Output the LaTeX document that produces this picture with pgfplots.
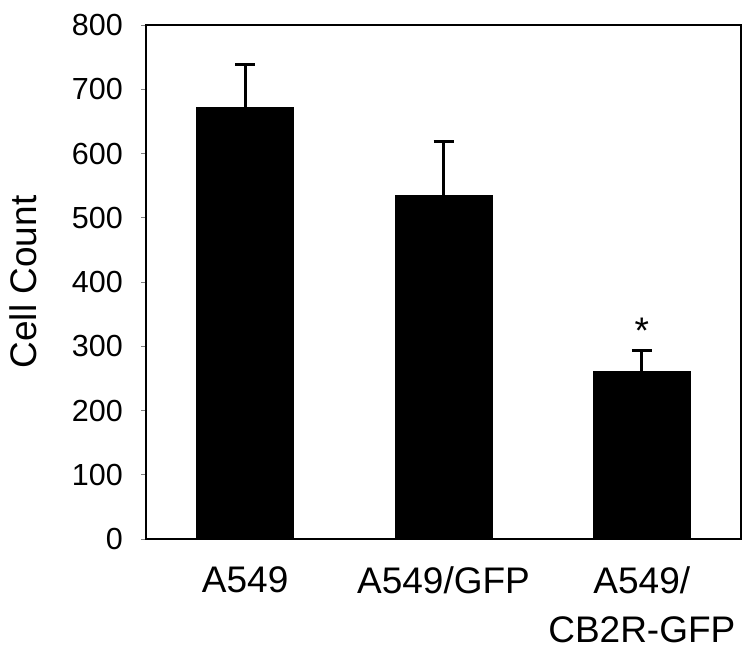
\documentclass[border=0pt]{standalone}
\usepackage{fontspec}
\setmainfont{Liberation Sans}
\usepackage{pgfplots}
\pgfplotsset{compat=1.18}
\begin{document}
\begin{tikzpicture}
\begin{axis}[
  at={(146bp,117bp)}, anchor=south west,
  scale only axis,
  width=595bp, height=514bp,
  xmin=-0.5, xmax=2.5, ymin=0, ymax=800,
  ybar, bar width=97bp, bar shift=0pt,
  axis line style={line width=2.5bp, black},
  tick align=outside,
  ytick={0,100,...,800},
  ytick pos=left,
  xtick pos=bottom,
  major tick length=5bp,
  minor tick length=5bp,
  ytick style={gray, line width=1bp},
  xtick={0,1,2},
  xtick style={draw=none},
  minor xtick={-0.5,0.5,1.5,2.5},
  minor x tick style={gray, line width=1bp},
  xticklabels={A549, A549/GFP, A549/\\CB2R-GFP},
  /pgf/number format/assume math mode=true,
  yticklabel style={font=\fontsize{30.5bp}{36bp}\selectfont, inner sep=0pt, anchor=east, xshift=-18bp},
  xticklabel style={font=\fontsize{37bp}{49bp}\selectfont, align=center, inner sep=0pt, anchor=north, yshift=-22bp},
  ylabel={Cell Count},
  every axis y label/.style={at={([xshift=-109bp]axis description cs:0,0.5)}, rotate=90, anchor=base, inner sep=0pt, font=\fontsize{37bp}{44bp}\selectfont},
]
\addplot[fill=black, draw=black, line width=0pt,
  error bars/.cd, y dir=plus, y explicit,
  error bar style={line width=3bp, black},
  error mark options={rotate=90, line width=3bp, black, mark size=10bp}]
  coordinates {
    (0,672) +- (0,67)
    (1,535) +- (0,84)
    (2,261) +- (0,32)
  };
\node[anchor=base, font=\fontsize{37bp}{44bp}\selectfont, inner sep=0pt] at (axis cs:2,304) {*};
\end{axis}
\pgfresetboundingbox
\path (0,0) rectangle (750bp,656bp);
\end{tikzpicture}
\end{document}
